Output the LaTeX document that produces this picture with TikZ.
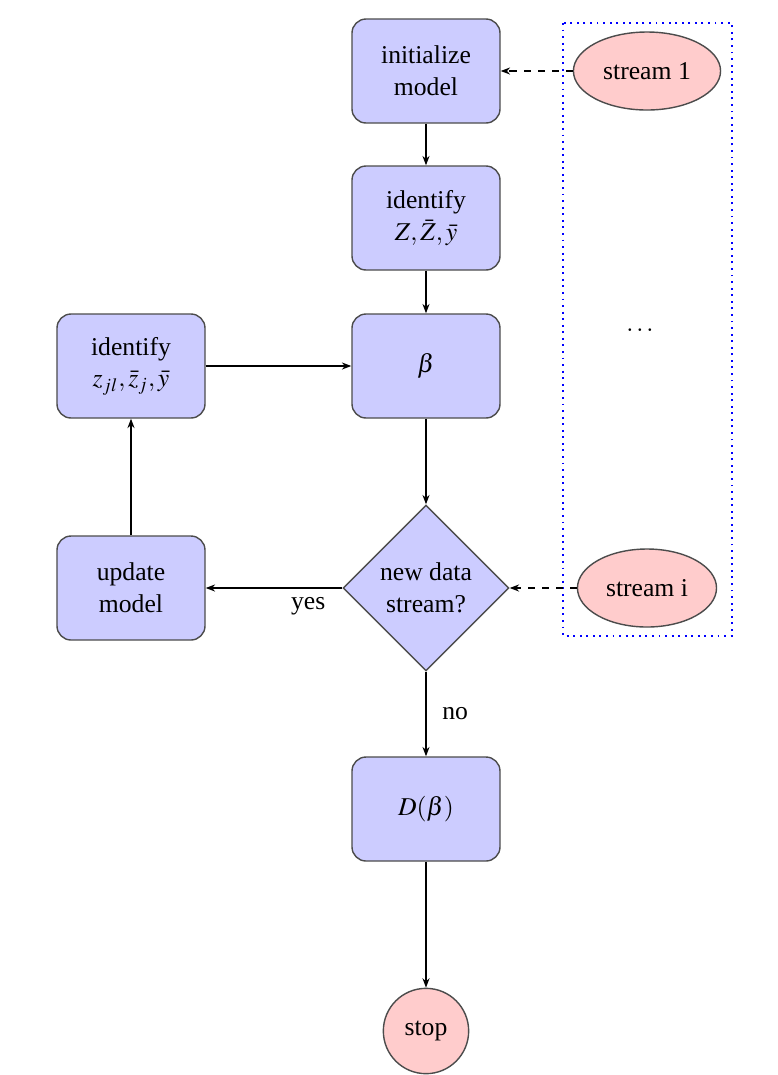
\documentclass[tikz,border=0pt,11pt]{standalone}
\usepackage{mathptmx}
\usepackage{fontspec}
\setmainfont{Liberation Serif}
\usetikzlibrary{shapes.geometric, arrows.meta}

\tikzset{
    block/.style={rectangle, rounded corners=6pt, draw=black!70, fill=blue!20,
        minimum width=2.22cm, minimum height=1.56cm, align=center, line width=0.6pt},
    decision/.style={diamond, draw=black!70, fill=blue!20, minimum width=2.49cm,
        minimum height=2.49cm, inner sep=0pt, align=center, line width=0.6pt},
    stream/.style={ellipse, draw=black!70, fill=red!20, minimum height=1.17cm,
        inner xsep=3.5pt, line width=0.6pt},
    flow/.style={draw, line width=0.7pt, -{Stealth[length=4pt, width=3pt]}},
    feed/.style={flow, dashed}
}

\begin{document}
\begin{tikzpicture}[x=1.5cm, y=-1.5cm]

    \useasboundingbox (0, 0) rectangle (7.78, 10.75);

    % Main column
    \node[block] (init) at (4.26, 0.71) {initialize\\ model};
    \node[block] (identZ) at (4.26, 2.18) {identify\\ $Z,\bar{Z},\bar{y}$};
    \node[block] (beta) at (4.26, 3.66) {$\beta$};
    \node[decision] (newdata) at (4.26, 5.88) {new data\\ stream?};
    \node[block] (dbeta) at (4.26, 8.09) {$D(\beta)$};
    \node[circle, draw=black!70, fill=red!20, minimum size=1.28cm, line width=0.6pt] (stop) at (4.26, 10.31) {stop};

    % Update loop
    \node[block] (update) at (1.31, 5.88) {update\\ model};
    \node[block] (identz) at (1.31, 3.66) {identify\\ $z_{jl},\bar{z}_j,\bar{y}$};

    % Data streams
    \draw[blue, dotted, line width=0.8pt] (5.63, 0.23) rectangle (7.32, 6.36);
    \node[stream] (s1) at (6.47, 0.71) {stream 1};
    \node[stream] (si) at (6.47, 5.88) {stream i};
    \node (dots) at (6.40, 3.30) {$\dots$};

    % Connectors
    \draw[flow] (init) -- (identZ);
    \draw[flow] (identZ) -- (beta);
    \draw[flow] (beta) -- (newdata);
    \draw[flow] (newdata) -- node[right=3pt] {no} (dbeta);
    \draw[flow] (dbeta) -- (stop);
    \draw[flow] (newdata) -- node[pos=0.25, below] {yes} (update);
    \draw[flow] (update) -- (identz);
    \draw[flow] (identz) -- (beta);
    \draw[feed] (s1) -- (init);
    \draw[feed] (si) -- (newdata);

\end{tikzpicture}
\end{document}
